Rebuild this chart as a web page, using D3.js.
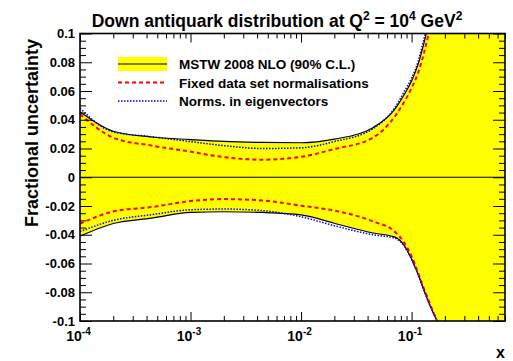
<!DOCTYPE html>
<html>
<head>
<meta charset="utf-8">
<script src="https://cdn.jsdelivr.net/npm/d3@7"></script>
<style>
  body { margin: 0; background: #fff; }
  svg text { font-family: "Liberation Sans", Arial, Helvetica, sans-serif; font-weight: bold; }
</style>
</head>
<body>
<svg id="chart" width="513" height="361"></svg>
<script>
// x values (log spaced)
var xVals = [0.0001, 0.0002, 0.000447, 0.001, 0.002, 0.00447, 0.01, 0.02, 0.0447, 0.07, 0.085, 0.1, 0.115, 0.13, 0.15, 0.17, 0.2, 0.3, 0.5, 0.7];

// MSTW 2008 NLO band (black)
var mstwUp = [0.0455, 0.032, 0.028, 0.0262, 0.0249, 0.0242, 0.024, 0.0265, 0.0345, 0.047, 0.057, 0.067, 0.079, 0.094, 0.115, 0.135, 0.17, 0.3, 0.6, 1.0];
var mstwLo = [-0.041, -0.0322, -0.0284, -0.0245, -0.024, -0.0245, -0.0262, -0.032, -0.0388, -0.0415, -0.047, -0.057, -0.068, -0.079, -0.091, -0.1, -0.112, -0.18, -0.35, -0.5];

// fixed data set normalisations (red dashed)
var fixedUp = [0.044, 0.0275, 0.022, 0.0178, 0.014, 0.0122, 0.0142, 0.0196, 0.0275, 0.042, 0.052, 0.062, 0.073, 0.087, 0.108, 0.13, 0.16, 0.28, 0.55, 0.9];
var fixedLo = [-0.0323, -0.0238, -0.0207, -0.0166, -0.0152, -0.0161, -0.0198, -0.0232, -0.0307, -0.0377, -0.045, -0.055, -0.067, -0.078, -0.09, -0.1, -0.112, -0.18, -0.35, -0.5];

// norms in eigenvectors (blue dotted)
var eigUp = [0.048, 0.0315, 0.0282, 0.0248, 0.022, 0.02, 0.0205, 0.0248, 0.0338, 0.048, 0.059, 0.069, 0.081, 0.097, 0.12, 0.14, 0.175, 0.3, 0.6, 1.0];
var eigLo = [-0.0378, -0.03, -0.026, -0.0226, -0.0221, -0.0232, -0.0275, -0.0337, -0.04, -0.0423, -0.0475, -0.057, -0.068, -0.079, -0.091, -0.1, -0.112, -0.18, -0.35, -0.5];

var yMajor = [-0.1, -0.08, -0.06, -0.04, -0.02, 0, 0.02, 0.04, 0.06, 0.08, 0.1];
var yLabels = ["-0.1", "-0.08", "-0.06", "-0.04", "-0.02", "0", "0.02", "0.04", "0.06", "0.08", "0.1"];
var xMajor = [0.0001, 0.001, 0.01, 0.1];
var xExp = ["-4", "-3", "-2", "-1"];

var legendNames = ["MSTW 2008 NLO (90% C.L.)", "Fixed data set normalisations", "Norms. in eigenvectors"];

var pL = 80, pR = 505, pT = 33.5, pB = 321;

var svg = d3.select("#chart");

var x = d3.scaleLog().domain([0.0001, 0.7]).range([pL, pR]);
var y = d3.scaleLinear().domain([-0.1, 0.1]).range([pB, pT]);

svg.append("defs").append("clipPath").attr("id", "clip")
  .append("rect").attr("x", pL).attr("y", pT)
  .attr("width", pR - pL).attr("height", pB - pT);

var plot = svg.append("g").attr("clip-path", "url(#clip)");

function pts(ys) {
  return xVals.map(function(v, i) { return [v, ys[i]]; });
}

var line = d3.line()
  .x(function(d) { return x(d[0]); })
  .y(function(d) { return y(d[1]); })
  .curve(d3.curveMonotoneX);

var area = d3.area()
  .x(function(d, i) { return x(xVals[i]); })
  .y0(function(d, i) { return y(mstwLo[i]); })
  .y1(function(d, i) { return y(mstwUp[i]); })
  .curve(d3.curveMonotoneX);

plot.append("path").datum(xVals).attr("d", area).attr("fill", "#ffff00");

[mstwUp, mstwLo].forEach(function(s) {
  plot.append("path").datum(pts(s)).attr("d", line)
    .attr("fill", "none").attr("stroke", "#000").attr("stroke-width", 1.2);
});

plot.append("line").attr("x1", pL).attr("x2", pR)
  .attr("y1", y(0)).attr("y2", y(0))
  .attr("stroke", "#000").attr("stroke-width", 1.2);

[fixedUp, fixedLo].forEach(function(s) {
  plot.append("path").datum(pts(s)).attr("d", line)
    .attr("fill", "none").attr("stroke", "#ff0000").attr("stroke-width", 2)
    .attr("stroke-dasharray", "4,3");
});

[eigUp, eigLo].forEach(function(s) {
  plot.append("path").datum(pts(s)).attr("d", line)
    .attr("fill", "none").attr("stroke", "#0000ff").attr("stroke-width", 1.5)
    .attr("stroke-dasharray", "1.5,1.5");
});

// axes, ticks pointing inwards
var xMinor = x.ticks().filter(function(t) { return xMajor.indexOf(t) < 0; });
var yMinor = d3.range(-0.1, 0.1001, 0.005).filter(function(t) {
  return Math.abs(Math.round(t * 50) - t * 50) > 1e-6;
});

function styleAxis(g) {
  g.select(".domain").remove();
  g.selectAll(".tick line").attr("stroke", "#000").attr("stroke-width", 1);
}

svg.append("g").attr("transform", "translate(0," + pB + ")")
  .call(d3.axisBottom(x).tickValues(xMinor).tickSizeInner(-5).tickSizeOuter(0).tickFormat(""))
  .call(styleAxis);
svg.append("g").attr("transform", "translate(0," + pT + ")")
  .call(d3.axisTop(x).tickValues(xMinor).tickSizeInner(-5).tickSizeOuter(0).tickFormat(""))
  .call(styleAxis);
svg.append("g").attr("transform", "translate(0," + pT + ")")
  .call(d3.axisTop(x).tickValues(xMajor).tickSizeInner(-9).tickSizeOuter(0).tickFormat(""))
  .call(styleAxis);

var xAx = svg.append("g").attr("transform", "translate(0," + pB + ")")
  .call(d3.axisBottom(x).tickValues(xMajor).tickSizeInner(-9).tickSizeOuter(0).tickPadding(10).tickFormat(""))
  .call(styleAxis);
xAx.selectAll(".tick text").each(function(d, i) {
  var t = d3.select(this).attr("font-size", 14).attr("fill", "#000").attr("dx", -2);
  t.append("tspan").text("10");
  t.append("tspan").attr("font-size", 10).attr("dy", -6).text(xExp[i]);
});

svg.append("g").attr("transform", "translate(" + pL + ",0)")
  .call(d3.axisLeft(y).tickValues(yMinor).tickSizeInner(-6).tickSizeOuter(0).tickFormat(""))
  .call(styleAxis);
svg.append("g").attr("transform", "translate(" + pR + ",0)")
  .call(d3.axisRight(y).tickValues(yMinor).tickSizeInner(-6).tickSizeOuter(0).tickFormat(""))
  .call(styleAxis);
svg.append("g").attr("transform", "translate(" + pR + ",0)")
  .call(d3.axisRight(y).tickValues(yMajor).tickSizeInner(-12).tickSizeOuter(0).tickFormat(""))
  .call(styleAxis);
svg.append("g").attr("transform", "translate(" + pL + ",0)")
  .call(d3.axisLeft(y).tickValues(yMajor).tickSizeInner(-12).tickSizeOuter(0).tickPadding(5)
    .tickFormat(function(d, i) { return yLabels[i]; }))
  .call(styleAxis)
  .selectAll(".tick text").attr("font-size", 13).attr("fill", "#000")
  .attr("font-family", "Liberation Sans, Arial, sans-serif").attr("font-weight", "bold");

svg.append("rect").attr("x", pL).attr("y", pT)
  .attr("width", pR - pL).attr("height", pB - pT)
  .attr("fill", "none").attr("stroke", "#000").attr("stroke-width", 1.6);

// titles
var title = svg.append("text").attr("x", 277).attr("y", 27)
  .attr("text-anchor", "middle").attr("font-size", 17.5);
title.append("tspan").text("Down antiquark distribution at Q");
title.append("tspan").attr("font-size", 12).attr("dy", -7).text("2");
title.append("tspan").attr("dy", 7).text(" = 10");
title.append("tspan").attr("font-size", 12).attr("dy", -7).text("4");
title.append("tspan").attr("dy", 7).text(" GeV");
title.append("tspan").attr("font-size", 12).attr("dy", -7).text("2");

svg.append("text").attr("transform", "translate(38," + 133 + ") rotate(-90)")
  .attr("text-anchor", "middle").attr("font-size", 18).text("Fractional uncertainty");

svg.append("text").attr("x", 505).attr("y", 358).attr("text-anchor", "end")
  .attr("font-size", 16).text("x");

// legend
var leg = svg.append("g");
var rowY = [64, 82.5, 101];
leg.append("rect").attr("x", 118).attr("y", 57).attr("width", 49).attr("height", 14)
  .attr("fill", "#ffff00");
leg.append("line").attr("x1", 118).attr("x2", 167).attr("y1", rowY[0]).attr("y2", rowY[0])
  .attr("stroke", "#000").attr("stroke-width", 1.2);
leg.append("line").attr("x1", 118).attr("x2", 167).attr("y1", rowY[1]).attr("y2", rowY[1])
  .attr("stroke", "#ff0000").attr("stroke-width", 2).attr("stroke-dasharray", "4,3");
leg.append("line").attr("x1", 118).attr("x2", 167).attr("y1", rowY[2]).attr("y2", rowY[2])
  .attr("stroke", "#0000ff").attr("stroke-width", 1.5).attr("stroke-dasharray", "1.5,1.5");
leg.selectAll("text.lg").data(legendNames).enter().append("text")
  .attr("class", "lg").attr("x", 179).attr("y", function(d, i) { return rowY[i] + 5; })
  .attr("font-size", 13.5).text(function(d) { return d; });
</script>
</body>
</html>
